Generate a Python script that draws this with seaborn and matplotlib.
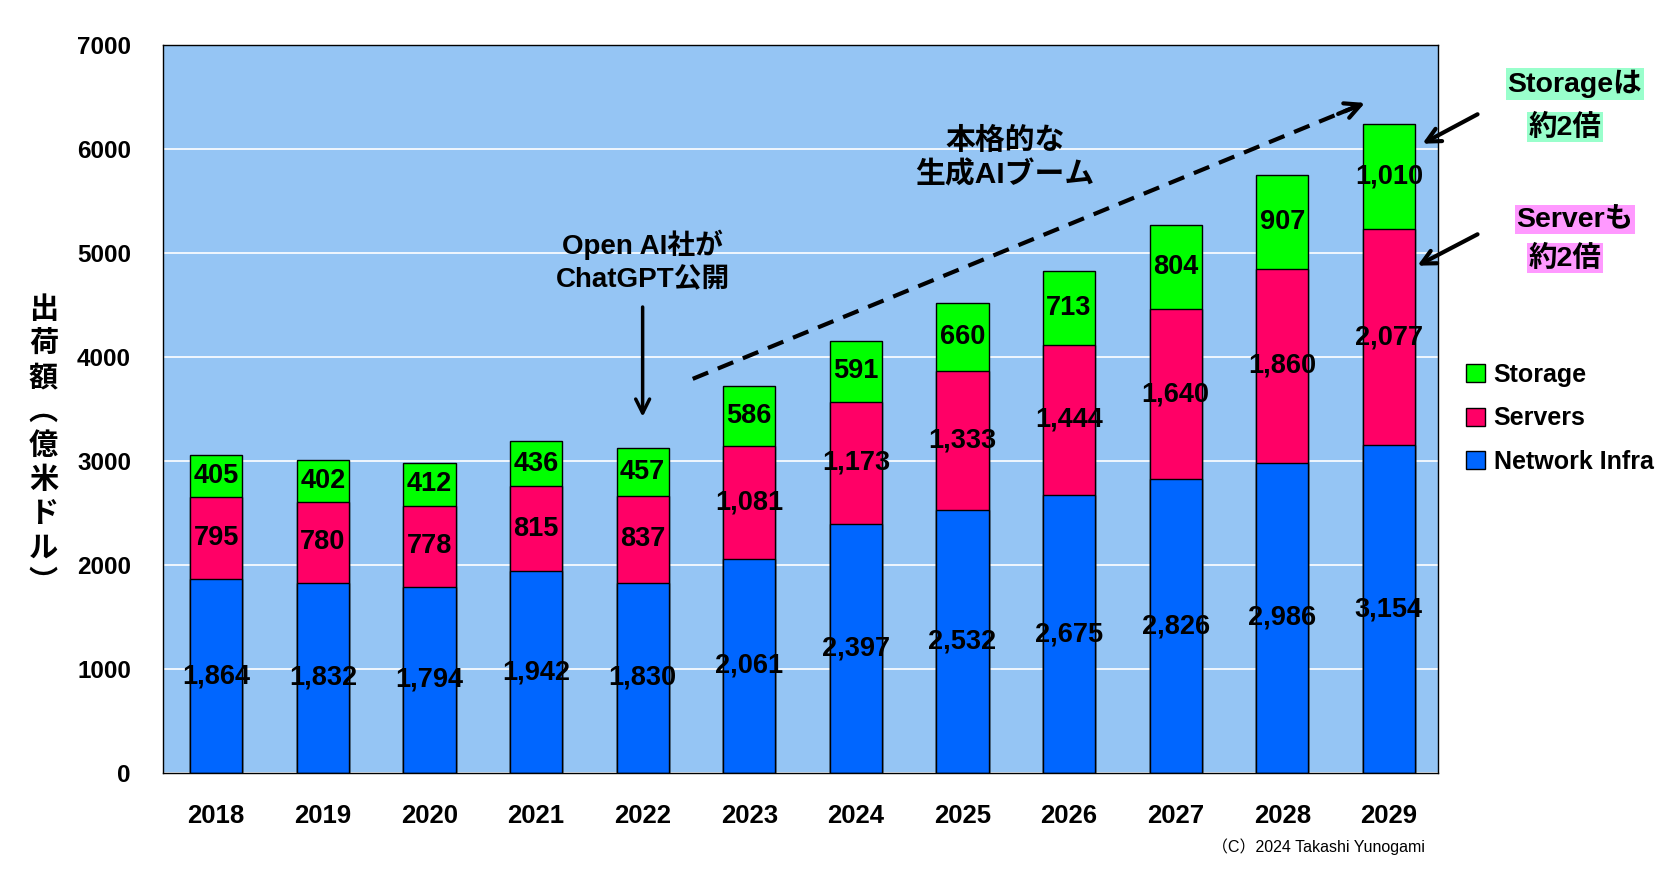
import numpy as np
import pandas as pd
import seaborn as sns
import matplotlib.pyplot as plt
from matplotlib.patches import Patch
from matplotlib import font_manager

# ---------- data ----------
years = ["2018", "2019", "2020", "2021", "2022", "2023",
         "2024", "2025", "2026", "2027", "2028", "2029"]
network_infra = [1864, 1832, 1794, 1942, 1830, 2061, 2397, 2532, 2675, 2826, 2986, 3154]
servers = [795, 780, 778, 815, 837, 1081, 1173, 1333, 1444, 1640, 1860, 2077]
storage = [405, 402, 412, 436, 457, 586, 591, 660, 713, 804, 907, 1010]

series_names = ["Storage", "Servers", "Network Infra"]
colors = {"Network Infra": "#0066FF", "Servers": "#FF0066", "Storage": "#00FF00"}

df = pd.DataFrame({"year": years, "Network Infra": network_infra,
                   "Servers": servers, "Storage": storage})
df["lvl1"] = df["Network Infra"]
df["lvl2"] = df["lvl1"] + df["Servers"]
df["lvl3"] = df["lvl2"] + df["Storage"]

# ---------- fonts ----------
installed = {f.name for f in font_manager.fontManager.ttflist}
NARROW = "Liberation Sans Narrow" if "Liberation Sans Narrow" in installed else "Liberation Sans"
JP = "Noto Sans CJK JP"
MIX = [NARROW, JP, "DejaVu Sans"]

sns.set_theme(style="white")
plt.rcParams["font.family"] = ["Liberation Sans", JP, "DejaVu Sans"]
plt.rcParams["text.color"] = "black"
plt.rcParams["xtick.color"] = "black"
plt.rcParams["ytick.color"] = "black"

# ---------- figure ----------
fig = plt.figure(figsize=(16.71, 8.73), dpi=100)
ax = fig.add_axes([0.0975, 0.1145, 0.763, 0.8335])
ax.set_facecolor("#95C5F4")

# stacked bars: draw cumulative totals top-down
for lvl, name in [("lvl3", "Storage"), ("lvl2", "Servers"), ("lvl1", "Network Infra")]:
    sns.barplot(data=df, x="year", y=lvl, color=colors[name], saturation=1,
                width=0.49, edgecolor="black", linewidth=1, ax=ax, zorder=2)

# value labels in the middle of each segment
bottoms = np.zeros(len(years))
for name in ["Network Infra", "Servers", "Storage"]:
    vals = df[name].to_numpy()
    for i, v in enumerate(vals):
        ax.text(i, bottoms[i] + v / 2, f"{v:,}", ha="center", va="center",
                fontsize=19.5, fontweight="bold", family=MIX, color="black", zorder=5)
    bottoms = bottoms + vals

# ---------- axes ----------
ax.set_ylim(0, 7000)
ax.set_xlim(-0.5, 11.46)
ax.set_yticks(range(0, 7001, 1000))
ax.set_yticklabels([str(t) for t in range(0, 7001, 1000)])
ax.yaxis.grid(True, color="white", lw=1.2)
ax.set_axisbelow(True)
ax.tick_params(axis="y", length=0, pad=23, labelsize=17.5)
ax.tick_params(axis="x", length=0, pad=22, labelsize=18.5)
for lab in ax.get_xticklabels() + ax.get_yticklabels():
    lab.set_fontweight("bold")
ax.set_xlabel("")
ax.set_ylabel("")
for s in ax.spines.values():
    s.set_color("black")
    s.set_linewidth(1)

# y label, stacked vertically
fig.text(0.026, 0.49, "\n".join("出荷額︵億米ドル︶"), ha="center", va="center",
         fontsize=21, fontweight="bold", family=[JP], linespacing=1.17)

# ---------- annotations ----------
ax.text(4, 4920, "Open AI社が\nChatGPT公開", ha="center", va="center",
        fontsize=20, fontweight="bold", family=MIX, linespacing=1.35)
ax.annotate("", xy=(4, 3400), xytext=(4, 4510),
            arrowprops=dict(arrowstyle="->", lw=2.5, color="black", mutation_scale=25))

ax.text(7.4, 5914, "本格的な\n生成AIブーム", ha="center", va="center",
        fontsize=21.5, fontweight="bold", family=MIX, linespacing=1.3)
boom_start = (4.47, 3792)
boom_end = (10.8, 6457)
ax.plot([boom_start[0], boom_end[0] - 0.08], [boom_start[1], boom_end[1] - 34],
        ls=(0, (4, 2.5)), lw=3, color="black")
ax.annotate("", xy=boom_end, xytext=(boom_end[0] - 0.3, boom_end[1] - 126),
            arrowprops=dict(arrowstyle="->", lw=3, color="black", mutation_scale=28))

# right-hand notes
notes = [(0.9425, 0.9038, "Storageは", "#99FFCC"), (0.9366, 0.8545, "約2倍", "#99FFCC"),
         (0.9425, 0.749, "Serverも", "#FF99FF"), (0.9366, 0.7045, "約2倍", "#FF99FF")]
for nx, ny, txt, bg in notes:
    fig.text(nx, ny, txt, ha="center", va="center", fontsize=20.5,
             fontweight="bold", family=MIX,
             bbox=dict(boxstyle="square,pad=0.05", fc=bg, ec="none"))

for tip, tail in [((0.8498, 0.8339), (0.8857, 0.8706)), ((0.8468, 0.6942), (0.8857, 0.7331))]:
    ax.annotate("", xy=tip, xytext=tail,
                xycoords="figure fraction", textcoords="figure fraction",
                arrowprops=dict(arrowstyle="->", lw=3, color="black", mutation_scale=25),
                annotation_clip=False)

# legend
handles = [Patch(facecolor=colors[n], edgecolor="black", label=n) for n in series_names]
leg = fig.legend(handles=handles, loc="upper left", bbox_to_anchor=(0.864, 0.61),
                 frameon=False, handlelength=0.75, handleheight=0.75,
                 handletextpad=0.35, labelspacing=0.78,
                 prop={"size": 18, "weight": "bold", "family": "Liberation Sans"})

# copyright
fig.text(0.789, 0.030, "（C）2024 Takashi Yunogami", ha="center", va="center",
         fontsize=11.5, family=MIX)

fig.savefig("out.png", dpi=100, facecolor="white")
